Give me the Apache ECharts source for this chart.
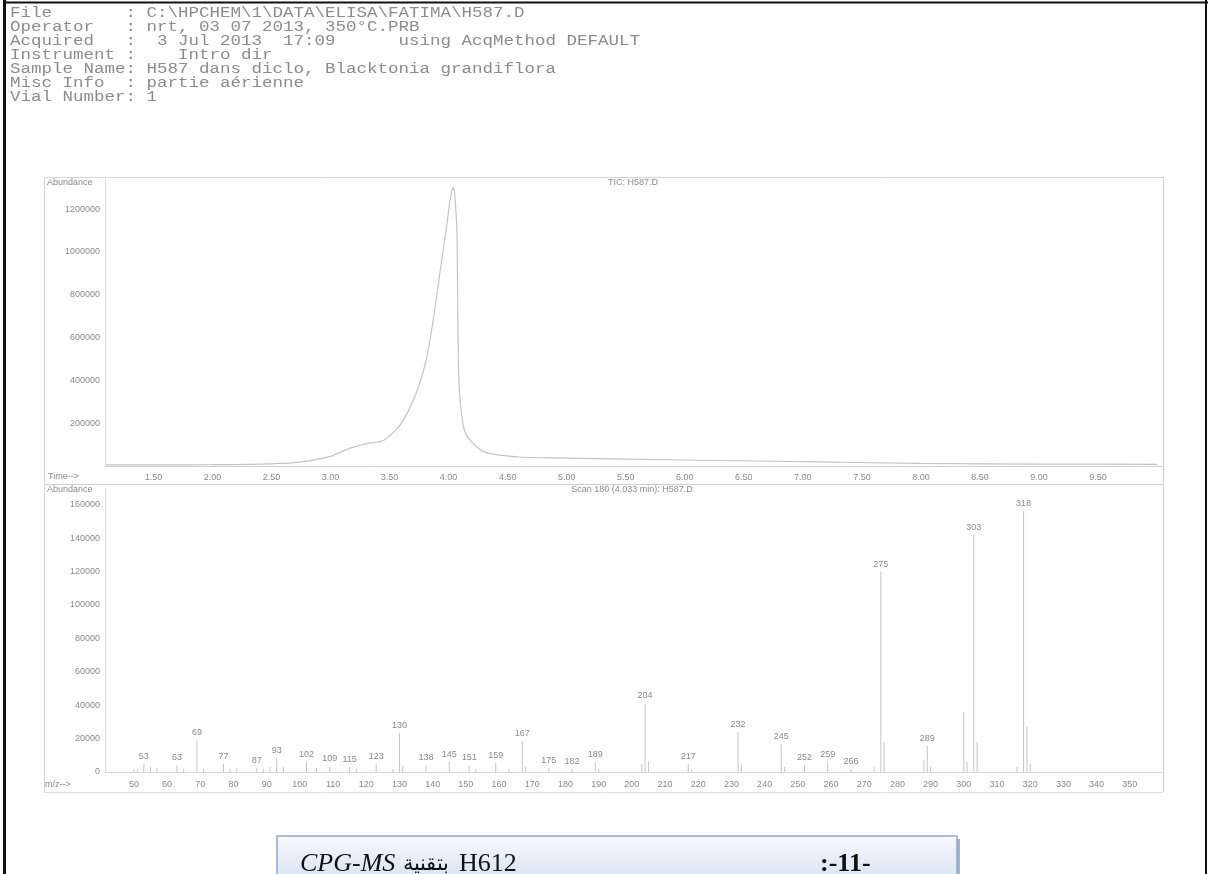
<!DOCTYPE html>
<html>
<head>
<meta charset="utf-8">
<script src="https://cdn.jsdelivr.net/npm/echarts@6/dist/echarts.min.js"></script>
<style>
  html, body { margin: 0; padding: 0; background: #fff; }
  #chart { width: 1211px; height: 874px; }
</style>
</head>
<body>
<div id="chart"></div>
<script>
// Report header (monospace block at top of the page)
const headerLines = [
    'File       : C:\\HPCHEM\\1\\DATA\\ELISA\\FATIMA\\H587.D',
    'Operator   : nrt, 03 07 2013, 350\u00b0C.PRB',
    'Acquired   :  3 Jul 2013  17:09      using AcqMethod DEFAULT',
    'Instrument :    Intro dir',
    'Sample Name: H587 dans diclo, Blacktonia grandiflora',
    'Misc Info  : partie a\u00e9rienne',
    'Vial Number: 1'
];

// TIC trace (time in min, abundance)
const ticTime  = [1.10, 1.50, 2.00, 2.50, 2.75, 3.00, 3.15, 3.30, 3.45, 3.59, 3.72, 3.81, 3.87, 3.93, 3.98, 4.02, 4.04, 4.05, 4.07, 4.08, 4.09, 4.12, 4.16, 4.30, 4.60, 5.00, 6.00, 7.15, 8.00, 9.00, 10.00];
const ticAbund = [5000, 5000, 6000, 10000, 19000, 45000, 80000, 103000, 120000, 192000, 333000, 496000, 684000, 918000, 1105000, 1269000, 1300000, 1280000, 1100000, 600000, 370000, 201000, 136000, 66000, 42000, 37000, 28000, 19000, 12000, 9000, 8000];

// mass spectrum, scan 180
const mzValues = [50, 51, 53, 55, 57, 63, 65, 69, 71, 77, 79, 81, 87, 89, 91, 93, 95, 102, 105, 109, 115, 117, 123, 128, 130, 131, 138, 145, 151, 153, 159, 163, 167, 168, 175, 182, 189, 190, 203, 204, 205, 217, 218, 232, 233, 245, 246, 252, 259, 266, 273, 275, 276, 288, 289, 290, 300, 301, 303, 304, 316, 318, 319, 320];
const mzAbund  = [1500, 2000, 5000, 3000, 2500, 4000, 2000, 19000, 2000, 5000, 2000, 2500, 2500, 2000, 3000, 8500, 3000, 6000, 2500, 3500, 3000, 2000, 5000, 2000, 23500, 4000, 4000, 6000, 4000, 2000, 5500, 2000, 18500, 3000, 2500, 2000, 6000, 2000, 5000, 41000, 6500, 5000, 1500, 24000, 4500, 16500, 3000, 4000, 6000, 2000, 3000, 120000, 18000, 7000, 15500, 3000, 36000, 6000, 142000, 18000, 3000, 156000, 27000, 5000];
const mzLabeled = [53, 63, 69, 77, 87, 93, 102, 109, 115, 123, 130, 138, 145, 151, 159, 167, 175, 182, 189, 204, 217, 232, 245, 252, 259, 266, 275, 289, 303, 318];

// tick labels
const ticYTicks = [200000, 400000, 600000, 800000, 1000000, 1200000];
const timeTicks = [1.5, 2.0, 2.5, 3.0, 3.5, 4.0, 4.5, 5.0, 5.5, 6.0, 6.5, 7.0, 7.5, 8.0, 8.5, 9.0, 9.5];
const msYTicks  = [0, 20000, 40000, 60000, 80000, 100000, 120000, 140000, 160000];
const mzTicks   = [50, 60, 70, 80, 90, 100, 110, 120, 130, 140, 150, 160, 170, 180, 190, 200, 210, 220, 230, 240, 250, 260, 270, 280, 290, 300, 310, 320, 330, 340, 350];

const grey = '#8a8a8a';
const lineGrey = '#c4c4c4';
const small = { fontFamily: 'Liberation Sans', fontSize: 9, color: grey };

let myChart = echarts.init(document.getElementById('chart'));

const ticData = ticTime.map((t, i) => [t, ticAbund[i]]);
const msData = mzValues.map((m, i) => ({
    value: [m, mzAbund[i]],
    label: { show: mzLabeled.indexOf(m) >= 0 }
}));

function txt(x, y, s, style, extra) {
    return Object.assign({ type: 'text', x: x, y: y, silent: true,
        style: Object.assign({ text: s, fill: grey, font: '9px Liberation Sans', textVerticalAlign: 'middle' }, style || {}) }, extra || {});
}
function hline(x1, x2, y, color, w) {
    return { type: 'line', silent: true, shape: { x1: x1, y1: y, x2: x2, y2: y }, style: { stroke: color, lineWidth: w || 1 } };
}
function vline(x, y1, y2, color, w) {
    return { type: 'line', silent: true, shape: { x1: x, y1: y1, x2: x, y2: y2 }, style: { stroke: color, lineWidth: w || 1 } };
}

let graphics = [];
headerLines.forEach((l, i) => {
    // scanned Courier print is wider than tall
    graphics.push(txt(10, 13 + i * 14, l, { font: '14px Liberation Mono', fill: '#8c8c8c' }, { scaleX: 1.25 }));
});
// black page border
graphics.push(vline(4.5, 0, 874, '#111', 3));
graphics.push(hline(3, 1208, 2.5, '#111', 2));
graphics.push(vline(1206, 0, 874, '#111', 2));
// report frame
graphics.push(hline(44, 1163, 177.5, '#d4d4d4'));
graphics.push(hline(44, 1163, 484.5, '#cfcfcf'));
graphics.push(hline(44, 1163, 792.5, '#dedede'));
graphics.push(vline(44.5, 177, 792, '#d4d4d4'));
graphics.push(vline(1163.5, 177, 792, '#cfcfcf'));
// panel captions
graphics.push(txt(47, 183, 'Abundance'));
graphics.push(txt(633, 183, 'TIC: H587.D', { textAlign: 'center' }));
graphics.push(txt(48, 477, 'Time-->'));
graphics.push(txt(47, 490, 'Abundance'));
graphics.push(txt(632, 490, 'Scan 180 (4.033 min): H587.D', { textAlign: 'center' }));
graphics.push(txt(45, 785, 'm/z-->'));
// caption box below the figure
graphics.push({ type: 'rect', silent: true, shape: { x: 280, y: 839, width: 680, height: 40 },
    style: { fill: '#9fb3d3' } });
graphics.push({ type: 'rect', silent: true, shape: { x: 277, y: 836, width: 680, height: 40 },
    style: { fill: new echarts.graphic.LinearGradient(0, 0, 0, 1, [
        { offset: 0, color: '#f7f9fd' }, { offset: 1, color: '#dbe5f4' }]),
        stroke: '#8ea8d4', lineWidth: 1.5 } });
graphics.push(txt(300, 864, 'CPG-MS', { font: 'italic 26px Liberation Serif', fill: '#111' }));
graphics.push(txt(403, 864, '\u0628\u062a\u0642\u0646\u064a\u0629', { font: '21px Liberation Serif', fill: '#111' }));
graphics.push(txt(459, 864, 'H612', { font: '26px Liberation Serif', fill: '#111' }));
graphics.push(txt(820, 864, ':-11-', { font: 'bold 26px Liberation Serif', fill: '#111' }));

const option = {
    backgroundColor: '#fff',
    animation: false,
    grid: [
        { left: 105, top: 177, width: 1058, height: 289, show: false },
        { left: 105, top: 488, width: 1058, height: 284, show: false }
    ],
    xAxis: [
        {
            gridIndex: 0, type: 'value', min: 1.09, max: 10.05,
            axisLine: { show: true, lineStyle: { color: '#d0d0d0' } },
            axisTick: { show: false },
            splitLine: { show: false },
            axisLabel: Object.assign({ customValues: timeTicks, margin: 7,
                formatter: v => v.toFixed(2) }, small)
        },
        {
            gridIndex: 1, type: 'value', min: 41.3, max: 360,
            axisLine: { show: true, lineStyle: { color: '#d0d0d0', type: 'dotted' } },
            axisTick: { show: false },
            splitLine: { show: false },
            axisLabel: Object.assign({ customValues: mzTicks, margin: 8,
                formatter: v => String(v) }, small)
        }
    ],
    yAxis: [
        {
            gridIndex: 0, type: 'value', min: 0, max: 1350000,
            axisLine: { show: true, lineStyle: { color: '#e0e0e0' } },
            axisTick: { show: false },
            splitLine: { show: false },
            axisLabel: Object.assign({ customValues: ticYTicks, margin: 5,
                formatter: v => String(v) }, small)
        },
        {
            gridIndex: 1, type: 'value', min: 0, max: 170000,
            axisLine: { show: true, lineStyle: { color: '#e0e0e0' } },
            axisTick: { show: false },
            splitLine: { show: false },
            axisLabel: Object.assign({ customValues: msYTicks, margin: 5,
                formatter: v => String(v) }, small)
        }
    ],
    series: [
        {
            name: 'TIC', type: 'line', xAxisIndex: 0, yAxisIndex: 0,
            data: ticData, symbol: 'none', smooth: 0.25,
            lineStyle: { color: lineGrey, width: 1.2 }
        },
        {
            name: 'Scan 180', type: 'bar', xAxisIndex: 1, yAxisIndex: 1,
            data: msData, barWidth: 1,
            itemStyle: { color: lineGrey },
            label: { show: false, position: 'top', distance: 3,
                fontFamily: 'Liberation Sans', fontSize: 9, color: grey,
                formatter: p => p.value[0] }
        }
    ],
    graphic: graphics
};

myChart.setOption(option);
</script>
</body>
</html>
